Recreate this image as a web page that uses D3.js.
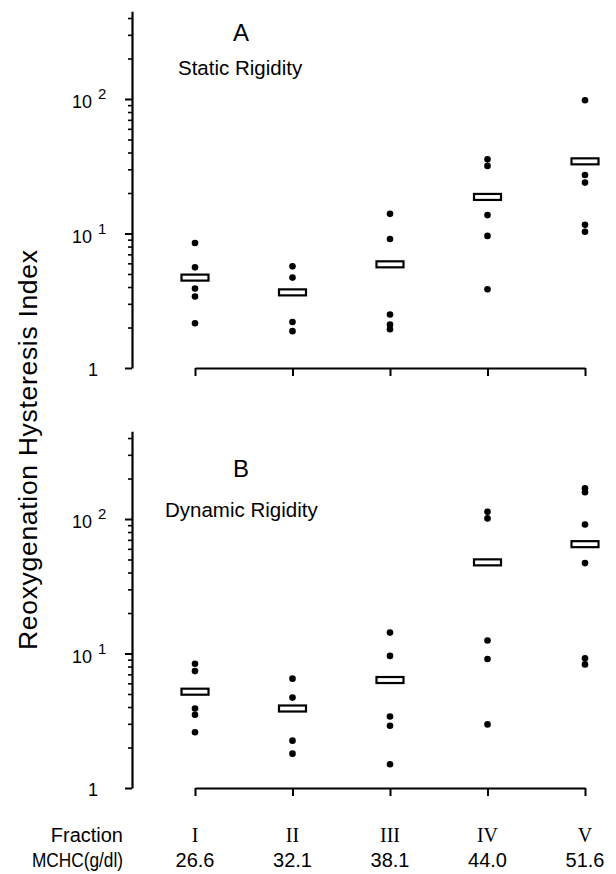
<!DOCTYPE html>
<html>
<head>
<meta charset="utf-8">
<script src="https://cdn.jsdelivr.net/npm/d3@7"></script>
<style>
  body { margin: 0; background: #fff; }
  text { font-family: "Liberation Sans", Arial, sans-serif; fill: #000; }
  .roman { font-family: "Liberation Serif", "Times New Roman", serif; }
</style>
</head>
<body>
<script>
// categories
const fractions = ["I", "II", "III", "IV", "V"];
const mchc = ["26.6", "32.1", "38.1", "44.0", "51.6"];

// panel A - static rigidity (individual values and means)
const staticPoints = [
  [8.5, 5.6, 3.9, 3.4, 2.15],
  [5.7, 4.7, 2.2, 1.88],
  [14, 9.1, 2.5, 2.1, 1.94],
  [35.6, 31.8, 13.7, 9.6, 3.85],
  [98, 27.2, 23.9, 11.6, 10.3]
];
const staticMeans = [4.7, 3.65, 5.9, 18.7, 34.4];

// panel B - dynamic rigidity
const dynamicPoints = [
  [8.4, 7.4, 3.9, 3.5, 2.6],
  [6.5, 4.7, 2.25, 1.8],
  [14.3, 9.6, 3.4, 2.9, 1.5],
  [113, 101, 12.5, 9.1, 2.97],
  [169, 158, 91, 47, 9.2, 8.3]
];
const dynamicMeans = [5.2, 3.9, 6.35, 47.6, 65];

// axis ticks
const majorTicks = [1, 10, 100];
const minorTicks = [2, 3, 4, 5, 6, 7, 8, 9, 20, 30, 40, 50, 60, 70, 80, 90, 200, 300, 400];

const width = 616, height = 874;
const decade = 134.5;
const yMax = 450;

const svg = d3.select("body").append("svg")
  .attr("width", width)
  .attr("height", height);

const x = d3.scalePoint()
  .domain(fractions)
  .range([195, 585]);

function drawPanel(bottom, points, means, letter, title, letterY, titleX, titleY) {
  let y = d3.scaleLog()
    .domain([1, yMax])
    .range([bottom, bottom - Math.log10(yMax) * decade]);

  let g = svg.append("g");

  // y axis: minor ticks then major ticks
  let minor = g.append("g")
    .attr("transform", "translate(132,0)")
    .call(d3.axisLeft(y).tickValues(minorTicks).tickSize(4).tickSizeOuter(0).tickFormat(""));
  minor.select(".domain").attr("stroke-width", 2.2);
  minor.selectAll(".tick line").attr("stroke-width", 1.6);

  let major = g.append("g")
    .attr("transform", "translate(132,0)")
    .call(d3.axisLeft(y).tickValues(majorTicks).tickSize(7).tickSizeOuter(0).tickFormat(""));
  major.select(".domain").remove();
  major.selectAll(".tick line").attr("stroke-width", 2);

  // tick labels, 10^n style
  majorTicks.forEach(function(v) {
    let p = Math.round(Math.log10(v));
    if (p === 0) {
      g.append("text")
        .attr("x", 98).attr("y", y(v) + 8)
        .attr("text-anchor", "end")
        .style("font-size", "18px")
        .text("1");
    } else {
      let t = g.append("text")
        .attr("x", 72).attr("y", y(v) + 9)
        .style("font-size", "18px");
      t.append("tspan").text("10");
      t.append("tspan")
        .attr("dx", 6).attr("dy", -9)
        .style("font-size", "15px")
        .text(p);
    }
  });

  // x axis
  let xa = g.append("g")
    .attr("transform", "translate(0," + bottom + ")")
    .call(d3.axisBottom(x).tickSize(8).tickSizeOuter(0).tickFormat(""));
  xa.select(".domain").attr("stroke-width", 2.2);
  xa.selectAll(".tick line").attr("stroke-width", 2);

  // dots
  let flat = [];
  points.forEach(function(arr, i) {
    arr.forEach(function(v) { flat.push({ f: fractions[i], v: v }); });
  });
  g.selectAll("circle")
    .data(flat)
    .enter().append("circle")
      .attr("cx", d => x(d.f))
      .attr("cy", d => y(d.v))
      .attr("r", 3.3)
      .attr("fill", "#000");

  // mean boxes
  g.selectAll("rect.mean")
    .data(means)
    .enter().append("rect")
      .attr("class", "mean")
      .attr("x", (d, i) => x(fractions[i]) - 13.5)
      .attr("y", d => y(d) - 3)
      .attr("width", 27)
      .attr("height", 6)
      .attr("fill", "#fff")
      .attr("stroke", "#000")
      .attr("stroke-width", 2.2);

  g.append("text")
    .attr("x", 241).attr("y", letterY)
    .attr("text-anchor", "middle")
    .style("font-size", "24px")
    .text(letter);

  g.append("text")
    .attr("x", titleX).attr("y", titleY)
    .style("font-size", "20.5px")
    .text(title);
}

drawPanel(368, staticPoints, staticMeans, "A", "Static Rigidity", 41, 178, 75);
drawPanel(788, dynamicPoints, dynamicMeans, "B", "Dynamic Rigidity", 477, 165, 517);

// y axis title
svg.append("text")
  .attr("transform", "translate(37,450) rotate(-90)")
  .attr("text-anchor", "middle")
  .attr("textLength", 400)
  .attr("lengthAdjust", "spacing")
  .style("font-size", "26.5px")
  .text("Reoxygenation Hysteresis Index");

// bottom rows
svg.append("text")
  .attr("x", 123).attr("y", 842)
  .attr("text-anchor", "end")
  .style("font-size", "20px")
  .text("Fraction");

svg.append("text")
  .attr("x", 123).attr("y", 867)
  .attr("text-anchor", "end")
  .attr("textLength", 91)
  .attr("lengthAdjust", "spacingAndGlyphs")
  .style("font-size", "20px")
  .text("MCHC(g/dl)");

svg.selectAll("text.frac")
  .data(fractions)
  .enter().append("text")
    .attr("class", "frac roman")
    .attr("x", d => x(d)).attr("y", 842)
    .attr("text-anchor", "middle")
    .style("font-size", "20px")
    .text(d => d);

svg.selectAll("text.mchc")
  .data(mchc)
  .enter().append("text")
    .attr("class", "mchc")
    .attr("x", (d, i) => x(fractions[i])).attr("y", 867)
    .attr("text-anchor", "middle")
    .style("font-size", "20px")
    .text(d => d);
</script>
</body>
</html>
